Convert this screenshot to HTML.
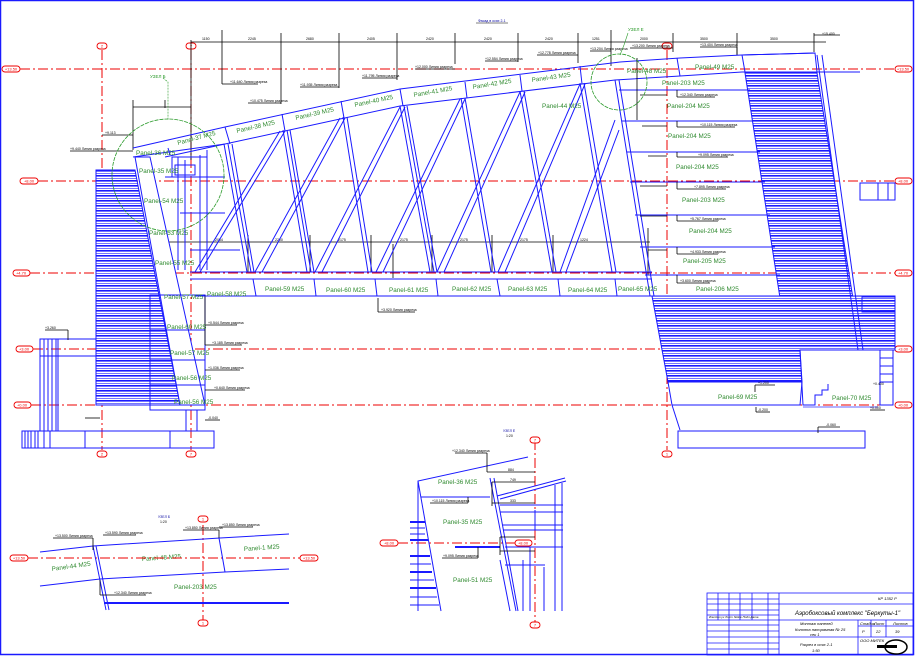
<!DOCTYPE html>
<html><head><meta charset="utf-8"><style>
html,body{margin:0;padding:0;background:#fff}
svg{display:block}
text{font-family:"Liberation Sans",sans-serif}
.p{fill:#2f8a2f;font-size:6.3px}
.s{fill:#000;font-size:3.5px}
.r{stroke:#e00;stroke-width:1;stroke-dasharray:10,3,2,3;fill:none}
.b{stroke:#1a1aff;stroke-width:1;fill:none}
.bt{stroke:#1a1aff;stroke-width:2;fill:none}
.k{stroke:#000;stroke-width:0.8;fill:none}
.ov{fill:#fff;stroke:#e00;stroke-width:0.9}
.ot{fill:#e00;font-size:4px;text-anchor:middle}
</style></head><body>
<svg width="915" height="656" viewBox="0 0 915 656" xmlns="http://www.w3.org/2000/svg">
<defs>
<pattern id="h" width="4" height="5" patternUnits="userSpaceOnUse"><rect width="4" height="5" fill="#fff"/><rect y="0" width="4" height="1.6" fill="#1a1aff"/><rect y="3" width="4" height="0.6" fill="#1a1aff"/></pattern>
</defs>
<rect x="0.5" y="0.5" width="913" height="654" fill="none" stroke="#1a1aff" stroke-width="1.5"/>

<!-- red grid -->
<line class="r" x1="20" y1="69" x2="895" y2="69"/>
<line class="r" x1="38" y1="181" x2="895" y2="181"/>
<line class="r" x1="30" y1="273" x2="895" y2="273"/>
<line class="r" x1="33" y1="349" x2="895" y2="349"/>
<line class="r" x1="31" y1="405" x2="895" y2="405"/>
<line class="r" x1="102" y1="50" x2="102" y2="450"/>
<line class="r" x1="191" y1="50" x2="191" y2="450"/>
<line class="r" x1="667" y1="50" x2="667" y2="450"/>
<g>
<rect class="ov" x="2" y="66" width="18" height="6" rx="3"/><text class="ot" x="11" y="70.5">+13.50</text>
<rect class="ov" x="20" y="178" width="18" height="6" rx="3"/><text class="ot" x="29" y="182.5">+8.00</text>
<rect class="ov" x="13" y="270" width="17" height="6" rx="3"/><text class="ot" x="21" y="274.5">+4.70</text>
<rect class="ov" x="16" y="346" width="17" height="6" rx="3"/><text class="ot" x="24" y="350.5">+3.00</text>
<rect class="ov" x="14" y="402" width="17" height="6" rx="3"/><text class="ot" x="22" y="406.5">+0.00</text>
<rect class="ov" x="895" y="66" width="17" height="6" rx="3"/><text class="ot" x="903" y="70.5">+13.50</text>
<rect class="ov" x="895" y="178" width="17" height="6" rx="3"/><text class="ot" x="903" y="182.5">+8.00</text>
<rect class="ov" x="895" y="270" width="17" height="6" rx="3"/><text class="ot" x="903" y="274.5">+4.70</text>
<rect class="ov" x="895" y="346" width="17" height="6" rx="3"/><text class="ot" x="903" y="350.5">+3.00</text>
<rect class="ov" x="895" y="402" width="17" height="6" rx="3"/><text class="ot" x="903" y="406.5">+0.00</text>
<rect class="ov" x="97" y="43" width="10" height="6" rx="3"/><text class="ot" x="102" y="47.5">2</text>
<rect class="ov" x="186" y="43" width="10" height="6" rx="3"/><text class="ot" x="191" y="47.5">7</text>
<rect class="ov" x="97" y="451" width="10" height="6" rx="3"/><text class="ot" x="102" y="455.5">2</text>
<rect class="ov" x="186" y="451" width="10" height="6" rx="3"/><text class="ot" x="191" y="455.5">7</text>
<rect class="ov" x="662" y="451" width="10" height="6" rx="3"/><text class="ot" x="667" y="455.5">1</text>
<rect class="ov" x="662" y="43" width="10" height="6" rx="3"/><text class="ot" x="667" y="47.5">1</text>
</g>

<!-- top dimension -->
<g class="k">
<line x1="191" y1="42" x2="826" y2="42"/>
<line x1="191" y1="40" x2="191" y2="160"/>
<line x1="222" y1="30" x2="222" y2="84"/>
<line x1="281" y1="33" x2="281" y2="104"/>
<line x1="339" y1="33" x2="339" y2="88"/>
<line x1="397" y1="33" x2="397" y2="80"/>
<line x1="455" y1="33" x2="455" y2="64"/>
<line x1="518" y1="33" x2="518" y2="62"/>
<line x1="578" y1="33" x2="578" y2="63"/>
<line x1="611" y1="30" x2="611" y2="66"/>
<line x1="673" y1="33" x2="673" y2="52"/>
<line x1="737" y1="33" x2="737" y2="55"/>
<line x1="814" y1="33" x2="814" y2="52"/>
<line x1="814" y1="35" x2="840" y2="35"/>
<line x1="133" y1="107" x2="191" y2="107"/>
<line x1="133" y1="100" x2="133" y2="150"/>
<line x1="165" y1="100" x2="165" y2="108"/>
<line x1="102" y1="135" x2="133" y2="135"/>
<line x1="70" y1="151" x2="133" y2="151"/>
<line x1="222" y1="84" x2="258" y2="84"/>
<line x1="248" y1="103" x2="281" y2="103"/>
<line x1="300" y1="87" x2="339" y2="87"/>
<line x1="362" y1="78" x2="397" y2="78"/>
<line x1="415" y1="69" x2="455" y2="69"/>
<line x1="485" y1="61" x2="518" y2="61"/>
<line x1="537" y1="55" x2="578" y2="55"/>
<line x1="590" y1="51" x2="611" y2="51"/>
<line x1="630" y1="48" x2="673" y2="48"/>
<line x1="700" y1="47" x2="737" y2="47"/>
<line x1="737" y1="47" x2="737" y2="55"/>
<line x1="155" y1="242" x2="650" y2="242"/>
<line x1="248" y1="235" x2="248" y2="272"/>
<line x1="310" y1="235" x2="310" y2="272"/>
<line x1="371" y1="235" x2="371" y2="272"/>
<line x1="432" y1="235" x2="432" y2="272"/>
<line x1="492" y1="235" x2="492" y2="272"/>
<line x1="553" y1="235" x2="553" y2="272"/>
<line x1="648" y1="228" x2="648" y2="275"/>
<line x1="393" y1="244" x2="393" y2="278"/>
<line x1="378" y1="298" x2="378" y2="312"/>
<line x1="378" y1="312" x2="415" y2="312"/>
</g>
<g class="s">
<text x="202" y="40">1150</text><text x="248" y="40">2245</text><text x="306" y="40">2680</text><text x="367" y="40">2405</text><text x="426" y="40">2420</text><text x="484" y="40">2420</text><text x="545" y="40">2420</text><text x="592" y="40">1251</text><text x="640" y="40">2000</text><text x="700" y="40">3500</text><text x="770" y="40">3500</text>
<text x="230" y="83">+11.640 Линия разреза</text><text x="250" y="102">+10.475 Линия разреза</text><text x="300" y="86">+11.935 Линия разреза</text><text x="362" y="77">+11.795 Линия разреза</text><text x="415" y="68">+12.000 Линия разреза</text><text x="485" y="60">+12.554 Линия разреза</text><text x="538" y="54">+12.778 Линия разреза</text><text x="590" y="50">+13.204 Линия разреза</text><text x="632" y="47">+13.200 Линия разреза</text><text x="700" y="46">+13.404 Линия разреза</text>
<text x="70" y="150">+9.440 Линия разреза</text><text x="105" y="134">+9.113</text>
<text x="215" y="241">2084</text><text x="275" y="241">2200</text><text x="338" y="241">2175</text><text x="400" y="241">2175</text><text x="460" y="241">2175</text><text x="520" y="241">2175</text><text x="580" y="241">1224</text>
<text x="381" y="311">+3.920 Линия разреза</text>
<text x="478" y="22" fill="#0000a0">Фасад в осях 2-1</text>
</g>
<line x1="476" y1="23" x2="508" y2="23" stroke="#000" stroke-width="0.5"/>

<!-- left hatched stair -->
<polygon points="96,170 135,170 180,405 96,405" fill="url(#h)" stroke="#1a1aff" stroke-width="1"/>
<polygon points="135,157 150,157 205,405 180,405" fill="#fff" stroke="#1a1aff" stroke-width="1"/>
<g class="b">
<rect x="40" y="339" width="56" height="17"/>
<line x1="40" y1="339" x2="40" y2="431"/>
<line x1="44" y1="339" x2="44" y2="431"/>
<line x1="48" y1="339" x2="48" y2="431"/>
<line x1="52" y1="339" x2="52" y2="431"/>
<line x1="56" y1="339" x2="56" y2="431"/>
<line x1="58" y1="339" x2="58" y2="431"/>
<rect x="22" y="431" width="192" height="17"/>
<line x1="85" y1="431" x2="85" y2="448"/>
<line x1="170" y1="431" x2="170" y2="448"/>
<line x1="25" y1="431" x2="25" y2="448"/><line x1="28" y1="431" x2="28" y2="448"/><line x1="31" y1="431" x2="31" y2="448"/><line x1="35" y1="431" x2="35" y2="448"/><line x1="38" y1="431" x2="38" y2="448"/><line x1="44" y1="431" x2="44" y2="448"/><line x1="50" y1="431" x2="50" y2="448"/>
<rect x="150" y="295" width="55" height="115"/>
<line x1="150" y1="330" x2="205" y2="330"/>
<line x1="150" y1="360" x2="205" y2="360"/>
<line x1="150" y1="385" x2="205" y2="385"/>
<line x1="186" y1="410" x2="186" y2="431"/>
<line x1="197" y1="410" x2="197" y2="431"/>
</g>
<g class="k">
<line x1="205" y1="295" x2="205" y2="345"/><line x1="205" y1="345" x2="242" y2="345"/>
<line x1="205" y1="325" x2="237" y2="325"/>
<line x1="205" y1="370" x2="240" y2="370"/>
<line x1="205" y1="390" x2="245" y2="390"/>
<line x1="85" y1="418" x2="100" y2="418"/>
<line x1="205" y1="420" x2="220" y2="420"/>
<line x1="45" y1="330" x2="68" y2="330"/><line x1="68" y1="330" x2="68" y2="340"/>
</g>
<g class="s"><text x="208" y="324">+0.544 Линия разреза</text><text x="212" y="344">+3.185 Линия разреза</text><text x="208" y="369">+1.036 Линия разреза</text><text x="214" y="389">+0.640 Линия разреза</text><text x="45" y="329">+3.260</text><text x="208" y="419">-0.040</text></g>

<!-- top chord -->
<g class="b">
<polyline points="133,148 225,127 400,89 620,62 680,58 742,55 815,53"/>
<polyline points="133,157 225,144 400,106 615,80 680,76 742,72 860,72"/>
<line x1="168" y1="148" x2="170" y2="155"/>
<line x1="225" y1="127" x2="230" y2="144"/>
<line x1="282" y1="114" x2="285" y2="131"/>
<line x1="341" y1="101" x2="344" y2="118"/>
<line x1="400" y1="89" x2="403" y2="106"/>
<line x1="465" y1="82" x2="467" y2="98"/>
<line x1="520" y1="75" x2="522" y2="91"/>
<line x1="580" y1="66" x2="582" y2="84"/>
<line x1="677" y1="58" x2="680" y2="76"/>
<line x1="742" y1="55" x2="745" y2="72"/>
<line x1="190" y1="272" x2="652" y2="272"/>
<line x1="190" y1="279" x2="652" y2="279"/>
<line x1="195" y1="296" x2="655" y2="296"/>
<line x1="253" y1="279" x2="256" y2="296"/>
<line x1="314" y1="279" x2="316" y2="296"/>
<line x1="375" y1="279" x2="377" y2="296"/>
<line x1="436" y1="279" x2="438" y2="296"/>
<line x1="497" y1="279" x2="500" y2="296"/>
<line x1="558" y1="279" x2="560" y2="296"/>
<line x1="615" y1="279" x2="617" y2="296"/>
</g>
<g class="b">
<line x1="224" y1="144" x2="247" y2="272"/><line x1="228" y1="144" x2="251" y2="272"/><line x1="232" y1="144" x2="254" y2="272"/>
<line x1="283" y1="130" x2="307" y2="272"/><line x1="287" y1="130" x2="311" y2="272"/><line x1="290" y1="130" x2="314" y2="272"/>
<line x1="343" y1="117" x2="368" y2="272"/><line x1="347" y1="117" x2="372" y2="272"/>
<line x1="400" y1="106" x2="430" y2="272"/><line x1="404" y1="106" x2="434" y2="272"/><line x1="407" y1="106" x2="437" y2="272"/>
<line x1="461" y1="98" x2="491" y2="272"/><line x1="465" y1="98" x2="495" y2="272"/>
<line x1="520" y1="91" x2="552" y2="272"/><line x1="524" y1="91" x2="556" y2="272"/>
<line x1="580" y1="83" x2="612" y2="272"/><line x1="584" y1="83" x2="616" y2="272"/>
<line x1="615" y1="80" x2="650" y2="296"/><line x1="619" y1="80" x2="654" y2="296"/>
<line x1="195" y1="272" x2="280" y2="131"/><line x1="200" y1="272" x2="285" y2="131"/>
<line x1="255" y1="272" x2="340" y2="118"/><line x1="262" y1="272" x2="345" y2="118"/>
<line x1="315" y1="272" x2="400" y2="107"/><line x1="322" y1="272" x2="405" y2="107"/>
<line x1="376" y1="272" x2="460" y2="99"/><line x1="383" y1="272" x2="465" y2="99"/>
<line x1="437" y1="272" x2="520" y2="92"/><line x1="444" y1="272" x2="525" y2="92"/>
<line x1="498" y1="272" x2="580" y2="84"/><line x1="505" y1="272" x2="585" y2="84"/>
<line x1="560" y1="272" x2="615" y2="120"/><line x1="566" y1="272" x2="619" y2="130"/>
<line x1="165" y1="157" x2="225" y2="144"/>
</g>
<g class="b">
<rect x="172" y="157" width="35" height="20"/>
<rect x="175" y="165" width="20" height="10"/>
<line x1="178" y1="157" x2="178" y2="270"/>
<line x1="185" y1="160" x2="185" y2="270"/>
<line x1="200" y1="155" x2="200" y2="270"/>
<line x1="207" y1="150" x2="207" y2="270"/>
<line x1="165" y1="177" x2="225" y2="177"/>
<line x1="180" y1="213" x2="225" y2="213"/>
<line x1="190" y1="250" x2="240" y2="250"/>
</g>

<!-- right block -->
<polygon points="745,73 817,73 858,330 785,330" fill="url(#h)" stroke="#1a1aff" stroke-width="1"/>
<polygon points="652,296 895,296 895,350 800,350 802,382 668,382" fill="url(#h)" stroke="#1a1aff" stroke-width="1"/>
<g class="b">
<polyline points="742,55 815,53 817,72"/>
<line x1="817" y1="55" x2="858" y2="350"/>
<line x1="822" y1="55" x2="863" y2="350"/>
<line x1="619" y1="90" x2="750" y2="90"/>
<line x1="622" y1="121" x2="755" y2="121"/>
<line x1="627" y1="152" x2="760" y2="152"/>
<line x1="630" y1="182" x2="765" y2="182"/>
<line x1="635" y1="215" x2="770" y2="215"/>
<line x1="640" y1="247" x2="775" y2="247"/>
<line x1="645" y1="275" x2="780" y2="275"/>
<rect x="860" y="183" width="35" height="17"/>
<line x1="878" y1="183" x2="878" y2="200"/>
<line x1="888" y1="183" x2="888" y2="200"/>
<rect x="862" y="297" width="33" height="15"/>
<polyline points="668,382 672,405 800,405 802,382"/>
<polyline points="800,350 803,405 815,405 815,395 822,395 822,390 828,390 828,384"/>
<line x1="672" y1="405" x2="680" y2="430"/>
<rect x="678" y="431" width="187" height="17"/>
<rect x="880" y="350" width="13" height="55"/>
<line x1="880" y1="358" x2="893" y2="358"/><line x1="880" y1="366" x2="893" y2="366"/><line x1="880" y1="374" x2="893" y2="374"/><line x1="880" y1="382" x2="893" y2="382"/>
<line x1="803" y1="407" x2="878" y2="407" stroke="#99f" stroke-width="1.5"/>
</g>
<g class="k">
<line x1="637" y1="58" x2="637" y2="120"/>
<line x1="640" y1="95" x2="667" y2="95"/>
<line x1="677" y1="90" x2="677" y2="97"/><line x1="677" y1="97" x2="715" y2="97"/>
<line x1="677" y1="121" x2="677" y2="127"/><line x1="677" y1="127" x2="735" y2="127"/>
<line x1="677" y1="152" x2="677" y2="157"/><line x1="677" y1="157" x2="728" y2="157"/>
<line x1="677" y1="182" x2="677" y2="189"/><line x1="677" y1="189" x2="726" y2="189"/>
<line x1="677" y1="215" x2="677" y2="221"/><line x1="677" y1="221" x2="718" y2="221"/>
<line x1="677" y1="247" x2="677" y2="254"/><line x1="677" y1="254" x2="718" y2="254"/>
<line x1="677" y1="275" x2="677" y2="283"/><line x1="677" y1="283" x2="710" y2="283"/>
<line x1="642" y1="126" x2="667" y2="126"/><line x1="648" y1="156" x2="667" y2="156"/><line x1="640" y1="186" x2="667" y2="186"/><line x1="640" y1="216" x2="667" y2="216"/><line x1="648" y1="250" x2="667" y2="250"/>
<line x1="755" y1="385" x2="755" y2="392"/><line x1="755" y1="385" x2="775" y2="385"/>
<line x1="756" y1="407" x2="756" y2="412"/><line x1="756" y1="412" x2="770" y2="412"/>
<line x1="818" y1="427" x2="818" y2="433"/><line x1="818" y1="427" x2="840" y2="427"/>
<line x1="870" y1="410" x2="885" y2="410"/>
</g>
<g class="s">
<text x="680" y="96">+12.340 Линия разреза</text><text x="700" y="126">+10.115 Линия разреза</text><text x="698" y="156">+9.095 Линия разреза</text><text x="694" y="188">+7.895 Линия разреза</text><text x="690" y="220">+5.767 Линия разреза</text><text x="690" y="253">+4.933 Линия разреза</text><text x="680" y="282">+3.600 Линия разреза</text>
<text x="758" y="384">+1.200</text><text x="758" y="411">-0.200</text><text x="826" y="426">-0.060</text><text x="870" y="409">+0.000</text><text x="873" y="385">+0.400</text>
<text x="822" y="35">+15.400</text>
</g>

<circle cx="168" cy="175" r="56" fill="none" stroke="#2a9a2a" stroke-width="0.8" stroke-dasharray="4,1"/>
<circle cx="619" cy="82" r="28" fill="none" stroke="#2a9a2a" stroke-width="0.8" stroke-dasharray="4,1"/>
<g fill="#2a9a2a" font-size="4.5"><text x="150" y="78">УЗЕЛ Б</text><text x="628" y="31">УЗЕЛ Е</text></g>
<polyline points="163,78 168,82 168,120" fill="none" stroke="#2a9a2a" stroke-width="0.6" stroke-dasharray="2,1"/>
<polyline points="628,33 624,45 620,55" fill="none" stroke="#2a9a2a" stroke-width="0.6"/>

<g class="p">
<text x="178" y="145" transform="rotate(-15 178 145)">Panel-37 M25</text>
<text x="237" y="133" transform="rotate(-13 237 133)">Panel-38 M25</text>
<text x="296" y="120" transform="rotate(-13 296 120)">Panel-39 M25</text>
<text x="355" y="107" transform="rotate(-12 355 107)">Panel-40 M25</text>
<text x="414" y="97" transform="rotate(-10 414 97)">Panel-41 M25</text>
<text x="473" y="89" transform="rotate(-9 473 89)">Panel-42 M25</text>
<text x="532" y="82" transform="rotate(-8 532 82)">Panel-43 M25</text>
<text x="542" y="108">Panel-44 M25</text>
<text x="627" y="73">Panel-48 M25</text>
<text x="695" y="69">Panel-49 M25</text>
<text x="662" y="85">Panel-203 M25</text>
<text x="667" y="108">Panel-204 M25</text>
<text x="668" y="138">Panel-204 M25</text>
<text x="676" y="169">Panel-204 M25</text>
<text x="682" y="202">Panel-203 M25</text>
<text x="689" y="233">Panel-204 M25</text>
<text x="683" y="263">Panel-205 M25</text>
<text x="696" y="291">Panel-206 M25</text>
<text x="718" y="399">Panel-69 M25</text>
<text x="832" y="400">Panel-70 M25</text>
<text x="136" y="155">Panel-36 M25</text>
<text x="139" y="173">Panel-35 M25</text>
<text x="144" y="203">Panel-54 M25</text>
<text x="149" y="235">Panel-53 M25</text>
<text x="155" y="265">Panel-55 M25</text>
<text x="164" y="299">Panel-57 M25</text>
<text x="167" y="329">Panel-60 M25</text>
<text x="170" y="355">Panel-57 M25</text>
<text x="172" y="380">Panel-56 M25</text>
<text x="174" y="404">Panel-56 M25</text>
<text x="207" y="296">Panel-58 M25</text>
<text x="265" y="291">Panel-59 M25</text>
<text x="326" y="292">Panel-60 M25</text>
<text x="389" y="292">Panel-61 M25</text>
<text x="452" y="291">Panel-62 M25</text>
<text x="508" y="291">Panel-63 M25</text>
<text x="568" y="292">Panel-64 M25</text>
<text x="618" y="291">Panel-65 M25</text>
<text x="52" y="571" transform="rotate(-8 52 571)">Panel-44 M25</text>
<text x="142" y="561" transform="rotate(-4 142 561)">Panel-48 M25</text>
<text x="244" y="551" transform="rotate(-4 244 551)">Panel-1 M25</text>
<text x="174" y="589">Panel-203 M25</text>
<text x="438" y="484">Panel-36 M25</text>
<text x="443" y="524">Panel-35 M25</text>
<text x="453" y="582">Panel-51 M25</text>
</g>

<!-- bottom left detail -->
<line class="r" x1="28" y1="558" x2="300" y2="558"/>
<line class="r" x1="203" y1="525" x2="203" y2="620"/>
<rect class="ov" x="10" y="555" width="18" height="6" rx="3"/><text class="ot" x="19" y="559.5">+13.50</text>
<rect class="ov" x="300" y="555" width="18" height="6" rx="3"/><text class="ot" x="309" y="559.5">+13.50</text>
<rect class="ov" x="198" y="516" width="10" height="6" rx="3"/><text class="ot" x="203" y="520.5">1</text>
<rect class="ov" x="198" y="620" width="10" height="6" rx="3"/><text class="ot" x="203" y="624.5">1</text>
<g class="b">
<polyline points="40,552 93,546 220,538 289,534"/>
<polyline points="40,586 100,579 225,572 289,569"/>
<line x1="104" y1="603" x2="289" y2="603" stroke-width="2"/>
<line x1="93" y1="546" x2="106" y2="610"/>
<line x1="96" y1="546" x2="109" y2="610"/>
<line x1="219" y1="538" x2="225" y2="572"/>
</g>
<g class="k"><line x1="93" y1="538" x2="93" y2="550"/><line x1="53" y1="538" x2="93" y2="538"/><line x1="103" y1="535" x2="136" y2="535"/><line x1="219" y1="530" x2="219" y2="538"/><line x1="183" y1="530" x2="219" y2="530"/><line x1="219" y1="527" x2="253" y2="527"/><line x1="100" y1="580" x2="100" y2="595"/><line x1="100" y1="595" x2="146" y2="595"/></g>
<g class="s"><text x="158" y="518" fill="#0000a0">УЗЕЛ Б</text><text x="160" y="523">1:20</text><text x="55" y="537">+13.500 Линия разреза</text><text x="105" y="534">+13.590 Линия разреза</text><text x="185" y="529">+13.850 Линия разреза</text><text x="222" y="526">+13.850 Линия разреза</text><text x="114" y="594">+12.340 Линия разреза</text></g>

<!-- middle detail -->
<line class="r" x1="398" y1="543" x2="515" y2="543"/>
<line class="r" x1="535" y1="440" x2="535" y2="622"/>
<rect class="ov" x="380" y="540" width="18" height="6" rx="3"/><text class="ot" x="389" y="544.5">+8.00</text>
<rect class="ov" x="515" y="540" width="17" height="6" rx="3"/><text class="ot" x="523" y="544.5">+8.00</text>
<rect class="ov" x="530" y="437" width="10" height="6" rx="3"/><text class="ot" x="535" y="441.5">7</text>
<rect class="ov" x="530" y="622" width="10" height="6" rx="3"/><text class="ot" x="535" y="626.5">7</text>
<g class="b">
<polyline points="418,611 418,481 528,457"/>
<line x1="418" y1="481" x2="441" y2="611"/>
<line x1="421" y1="497" x2="490" y2="497"/>
<line x1="455" y1="547" x2="500" y2="547" stroke-width="2"/>
<line x1="490" y1="478" x2="516" y2="611"/>
<line x1="494" y1="478" x2="518" y2="611"/>
<line x1="497" y1="496" x2="565" y2="478"/>
<line x1="500" y1="499" x2="566" y2="481"/>
<line x1="500" y1="505" x2="563" y2="505"/>
<line x1="500" y1="512" x2="563" y2="512"/>
<line x1="503" y1="525" x2="563" y2="525"/>
<line x1="503" y1="530" x2="563" y2="530"/>
<line x1="505" y1="547" x2="563" y2="547"/>
<line x1="505" y1="565" x2="545" y2="565"/>
<line x1="555" y1="485" x2="555" y2="611"/>
<line x1="562" y1="483" x2="562" y2="611"/>
<line x1="530" y1="547" x2="530" y2="611"/>
<line x1="523" y1="560" x2="523" y2="611"/>
<line x1="544" y1="567" x2="544" y2="611"/>
<line x1="500" y1="560" x2="510" y2="611"/>
<line x1="535" y1="510" x2="535" y2="530"/>
</g>
<g stroke="#1a1aff"><line x1="410" y1="522" x2="425" y2="522" stroke-width="2"/><line x1="410" y1="528" x2="425" y2="528"/><line x1="410" y1="534" x2="425" y2="534"/><line x1="410" y1="540" x2="428" y2="540" stroke-width="2"/><line x1="410" y1="556" x2="430" y2="556" stroke-width="2"/><line x1="410" y1="564" x2="431" y2="564"/><line x1="410" y1="572" x2="432" y2="572" stroke-width="2"/><line x1="410" y1="580" x2="434" y2="580"/><line x1="410" y1="588" x2="436" y2="588" stroke-width="2"/><line x1="410" y1="597" x2="437" y2="597"/><line x1="410" y1="605" x2="439" y2="605"/></g>
<g class="k">
<line x1="487" y1="453" x2="487" y2="472"/><line x1="455" y1="453" x2="487" y2="453"/>
<line x1="487" y1="472" x2="535" y2="472"/>
<line x1="492" y1="482" x2="535" y2="482"/><line x1="492" y1="482" x2="492" y2="506"/>
<line x1="492" y1="503" x2="535" y2="503"/>
<line x1="468" y1="497" x2="468" y2="503"/><line x1="430" y1="503" x2="468" y2="503"/>
<line x1="500" y1="537" x2="535" y2="537"/><line x1="500" y1="551" x2="535" y2="551"/><line x1="500" y1="537" x2="500" y2="555"/>
<line x1="478" y1="547" x2="478" y2="558"/><line x1="442" y1="558" x2="478" y2="558"/>
</g>
<g class="s"><text x="503" y="432" fill="#0000a0">УЗЕЛ Е</text><text x="506" y="437">1:20</text><text x="452" y="452">+12.340 Линия разреза</text><text x="508" y="471">884</text><text x="510" y="481">749</text><text x="510" y="502">333</text><text x="432" y="502">+10.115 Линия разреза</text><text x="443" y="557">+9.095 Линия разреза</text></g>

<!-- title block -->
<g stroke="#1a1aff" stroke-width="0.8" fill="none">
<rect x="707" y="593" width="206" height="62"/>
<line x1="779" y1="604" x2="913" y2="604"/>
<line x1="707" y1="620" x2="913" y2="620"/>
<line x1="779" y1="637" x2="913" y2="637"/>
<line x1="858" y1="620" x2="858" y2="655"/>
<line x1="858" y1="626" x2="913" y2="626"/>
<line x1="871" y1="620" x2="871" y2="637"/>
<line x1="886" y1="620" x2="886" y2="637"/>
<line x1="707" y1="599" x2="779" y2="599"/><line x1="707" y1="604" x2="779" y2="604"/><line x1="707" y1="610" x2="779" y2="610"/><line x1="707" y1="615" x2="779" y2="615"/><line x1="707" y1="625" x2="779" y2="625"/><line x1="707" y1="631" x2="779" y2="631"/><line x1="707" y1="637" x2="779" y2="637"/><line x1="707" y1="643" x2="779" y2="643"/><line x1="707" y1="649" x2="779" y2="649"/>
<line x1="718" y1="593" x2="718" y2="620"/><line x1="729" y1="593" x2="729" y2="620"/><line x1="740" y1="593" x2="740" y2="620"/><line x1="752" y1="593" x2="752" y2="620"/><line x1="768" y1="593" x2="768" y2="655"/><line x1="779" y1="593" x2="779" y2="655"/><line x1="729" y1="620" x2="729" y2="655"/>
</g>
<g fill="#000" font-size="4" font-style="italic">
<text x="878" y="600">КР 1352 Р</text>
<text x="795" y="615" font-size="6">Аэробоксовый комплекс "Беркуты-1"</text>
<text x="800" y="625">Монтаж панелей</text><text x="795" y="631">Колонна панорамная № 25</text><text x="810" y="636">сек 1</text>
<text x="800" y="646">Разрез в осях 2-1</text><text x="812" y="652">1:50</text>
<text x="860" y="625">Стадия</text><text x="874" y="625">Лист</text><text x="893" y="625">Листов</text>
<text x="862" y="633">Р</text><text x="876" y="633">22</text><text x="895" y="633">39</text>
<text x="860" y="642">ООО МИТЕК</text>
<text x="709" y="618" font-size="3">Изм Кол.уч Лист №док Подп Дата</text>
</g>
<ellipse cx="896" cy="647" rx="11" ry="7" fill="none" stroke="#000" stroke-width="1.5"/>
<rect x="877" y="645" width="20" height="3" fill="#000"/>
</svg>
</body></html>
